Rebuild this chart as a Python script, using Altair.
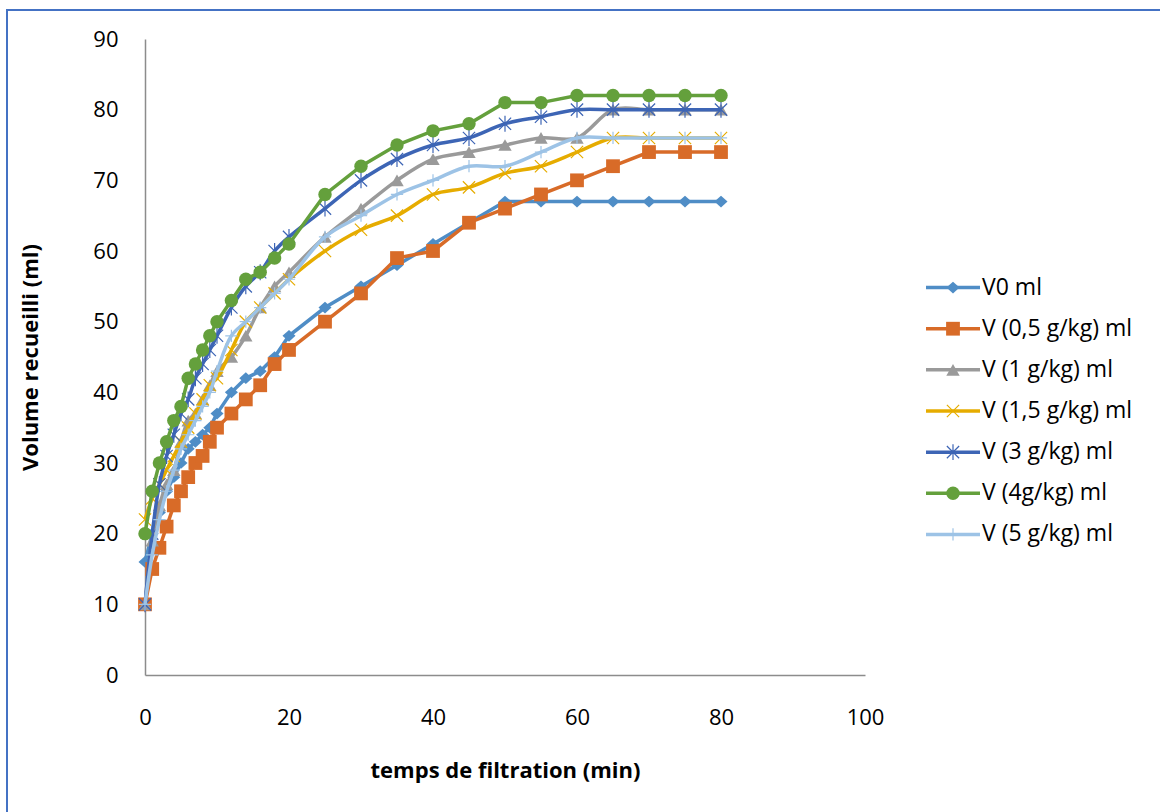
import altair as alt
import pandas as pd

# ---- data ----
temps = [0, 1, 2, 3, 4, 5, 6, 7, 8, 9, 10, 12, 14, 16, 18, 20, 25, 30, 35, 40, 45, 50, 55, 60, 65, 70, 75, 80]

v0   = [16, 20, 23, 26, 28, 30, 32, 33, 34, 35, 37, 40, 42, 43, 45, 48, 52, 55, 58, 61, 64, 67, 67, 67, 67, 67, 67, 67]
v05  = [10, 15, 18, 21, 24, 26, 28, 30, 31, 33, 35, 37, 39, 41, 44, 46, 50, 54, 59, 60, 64, 66, 68, 70, 72, 74, 74, 74]
v1   = [10, 19, 24, 27, 29, 33, 36, 37, 39, 41, 43, 45, 48, 52, 55, 57, 62, 66, 70, 73, 74, 75, 76, 76, 80, 80, 80, 80]
v15  = [22, 25, 27, 29, 31, 33, 35, 37, 39, 41, 42, 46, 50, 52, 54, 56, 60, 63, 65, 68, 69, 71, 72, 74, 76, 76, 76, 76]
v3   = [10, 20, 27, 31, 34, 37, 39, 42, 44, 46, 48, 52, 55, 57, 60, 62, 66, 70, 73, 75, 76, 78, 79, 80, 80, 80, 80, 80]
v4   = [20, 26, 30, 33, 36, 38, 42, 44, 46, 48, 50, 53, 56, 57, 59, 61, 68, 72, 75, 77, 78, 81, 81, 82, 82, 82, 82, 82]
v5   = [10, 17, 22, 26, 29, 32, 34, 36, 38, 40, 43, 48, 50, 52, 54, 56, 62, 65, 68, 70, 72, 72, 74, 76, 76, 76, 76, 76]

series_names = ["V0 ml", "V (0,5 g/kg) ml", "V (1 g/kg) ml", "V (1,5 g/kg) ml",
                "V (3 g/kg) ml", "V (4g/kg) ml", "V (5 g/kg) ml"]
series_values = [v0, v05, v1, v15, v3, v4, v5]
colors = ["#4F8DC6", "#D86B28", "#9A9A9A", "#E6AC00", "#3D65B5", "#64A03C", "#9DC3E6"]

DIAMOND = "M0,-0.9L1,0L0,0.9L-1,0Z"
XMARK = "M-1,-1L1,1M-1,1L1,-1"
ASTER = "M-1,-1L1,1M-1,1L1,-1M0,-1.3L0,1.3"
PLUS = "M-1,0L1,0M0,-1L0,1"
shapes = [DIAMOND, "square", "triangle-up", XMARK, ASTER, "circle", PLUS]
filled = [True, True, True, False, False, True, False]
sizes = [170, 190, 180, 150, 150, 180, 150]
smooth = [False, False, True, True, True, False, True]

rows = []
for name, vals in zip(series_names, series_values):
    for t, v in zip(temps, vals):
        rows.append({"serie": name, "temps": t, "volume": v})
df = pd.DataFrame(rows)

FONT = "Open Sans"
FS = 22
color_scale = alt.Scale(domain=series_names, range=colors)
shape_scale = alt.Scale(domain=series_names, range=shapes)

xenc = alt.X("temps:Q", scale=alt.Scale(domain=[0, 100]),
             axis=alt.Axis(values=[0, 20, 40, 60, 80, 100], grid=False, ticks=False, tickSize=0,
                           labelFlush=False,
                           labelPadding=32, labelFontSize=FS, labelFont=FONT, labelColor="#000000",
                           domainColor="#8C8C8C", domainWidth=1.5,
                           title="temps de filtration (min)", titleFont=FONT, titleFontSize=22,
                           titleFontWeight="bold", titleColor="#000000",
                           titleY=95, titleBaseline="middle"))
yenc = alt.Y("volume:Q", scale=alt.Scale(domain=[0, 90]),
             axis=alt.Axis(values=list(range(0, 91, 10)), grid=False, ticks=False, tickSize=0,
                           labelFlush=False,
                           labelPadding=27, labelFontSize=FS, labelFont=FONT, labelColor="#000000",
                           domainColor="#8C8C8C", domainWidth=1.5,
                           title="Volume recueilli (ml)", titleFont=FONT, titleFontSize=22,
                           titleFontWeight="bold", titleColor="#000000",
                           titleX=-115, titleY=318, titleAngle=-90, titleAlign="center",
                           titleBaseline="middle"))

base = alt.Chart(df)
layers = []
for i, name in enumerate(series_names):
    sub = base.transform_filter(alt.datum.serie == name)
    line = sub.mark_line(strokeWidth=3.5, interpolate="catmull-rom" if smooth[i] else "linear").encode(
        x=xenc, y=yenc,
        color=alt.Color("serie:N", scale=color_scale, legend=None),
    )
    if filled[i]:
        pt = sub.mark_point(filled=True, size=sizes[i], opacity=1)
    else:
        pt = sub.mark_point(filled=False, size=sizes[i], strokeWidth=1.2, opacity=1)
    pt = pt.encode(
        x=xenc, y=yenc,
        color=alt.Color("serie:N", scale=color_scale, legend=None),
        shape=alt.Shape("serie:N", scale=shape_scale, legend=None),
    )
    layers += [line, pt]

# ---- manual legend ----
leg_df = pd.DataFrame({"serie": series_names})
leg_y = alt.Y("serie:N", scale=alt.Scale(domain=series_names, range=[228, 516]), axis=None)
leg_base = alt.Chart(leg_df)
leg_rule = leg_base.mark_rule(strokeWidth=3.5).encode(
    x=alt.value(781), x2=alt.value(835), y=leg_y,
    color=alt.Color("serie:N", scale=color_scale, legend=None))
leg_text = leg_base.mark_text(align="left", baseline="middle", font=FONT, fontSize=23,
                              color="#000000").encode(
    x=alt.value(837), y=leg_y, text="serie:N")
leg_layers = [leg_rule]
for i, name in enumerate(series_names):
    sub = leg_base.transform_filter(alt.datum.serie == name)
    if filled[i]:
        p = sub.mark_point(filled=True, size=sizes[i], opacity=1)
    else:
        p = sub.mark_point(filled=False, size=sizes[i], strokeWidth=1.2, opacity=1)
    leg_layers.append(p.encode(
        x=alt.value(808), y=leg_y,
        color=alt.Color("serie:N", scale=color_scale, legend=None),
        shape=alt.Shape("serie:N", scale=shape_scale, legend=None)))
leg_layers.append(leg_text)
legend = alt.layer(*leg_layers)

# ---- outer frame ----
frame = alt.Chart(pd.DataFrame({"a": [0]})).mark_rect(filled=False, stroke="#4472C4", strokeWidth=2).encode(
    x=alt.value(-138), x2=alt.value(1030), y=alt.value(-29), y2=alt.value(790))

chart = alt.layer(alt.layer(*layers), legend, frame).resolve_scale(y="independent").properties(
    width=720, height=636,
    padding={"left": 145, "top": 39, "right": 295, "bottom": 137},
    autosize=alt.AutoSizeParams(type="none"),
    background="#FFFFFF",
).configure_view(stroke=None)

chart.save("out.html", embed_options={"renderer": "svg", "actions": False})
